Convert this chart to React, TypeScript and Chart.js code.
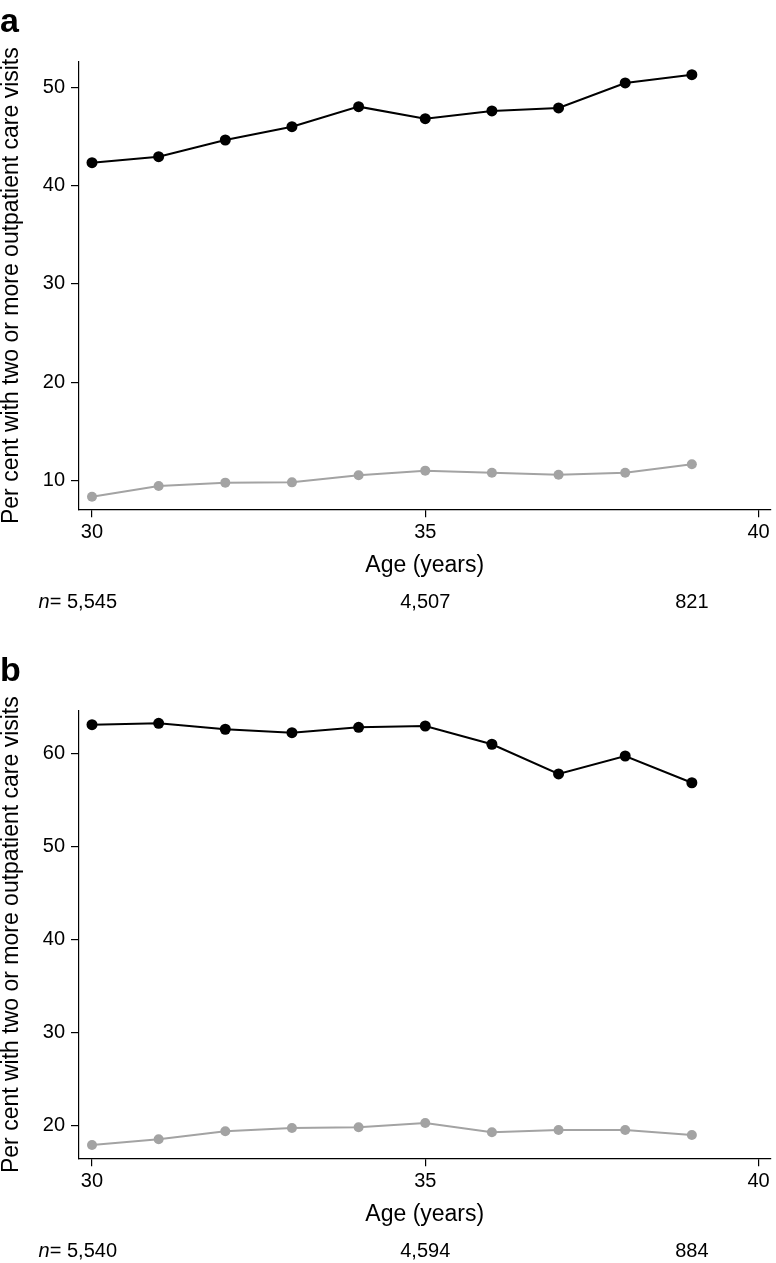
import React, { useEffect, useRef } from "react";
import { Chart, registerables } from "chart.js";

Chart.register(...registerables);

const FONT = '"Liberation Sans", Arial, Helvetica, sans-serif';

const ages = [30, 31, 32, 33, 34, 35, 36, 37, 38, 39];
const panelABlack = [42.33, 42.94, 44.64, 45.99, 48.03, 46.81, 47.59, 47.9, 50.44, 51.28];
const panelAGray = [8.37, 9.46, 9.8, 9.83, 10.55, 11.02, 10.81, 10.61, 10.81, 11.67];
const panelBBlack = [63.07, 63.22, 62.58, 62.21, 62.79, 62.93, 60.97, 57.78, 59.71, 56.84];
const panelBGray = [17.96, 18.57, 19.43, 19.79, 19.86, 20.32, 19.32, 19.57, 19.57, 19.03];

const xTicks = [30, 35, 40];
const xRange = [29.805, 40.18];
const yTicksA = [10, 20, 30, 40, 50];
const yRangeA = [7.09, 52.57];
const yTicksB = [20, 30, 40, 50, 60];
const yRangeB = [16.53, 64.54];

const nAt = [30, 35, 39];
const nLabelsA = ["5,545", "4,507", "821"];
const nLabelsB = ["5,540", "4,594", "884"];

const xTitle = "Age (years)";
const yTitle = "Per cent with two or more outpatient care visits";

const BLACK = "#000000";
const GRAY = "#a3a3a3";

const nRowPlugin = {
  id: "nRow",
  afterDraw(chart: any, _args: any, opts: any) {
    const { ctx, chartArea, scales } = chart;
    const xs = scales.x;
    const y = chartArea.bottom + opts.offset;
    ctx.save();
    ctx.fillStyle = "#000";
    ctx.textBaseline = "middle";
    (opts.labels as string[]).forEach((lab, i) => {
      ctx.font = `20px ${FONT}`;
      const cx = xs.getPixelForValue(opts.at[i]);
      ctx.textAlign = "center";
      ctx.fillText(lab, cx, y);
      if (i === 0) {
        const w = ctx.measureText(lab).width;
        const left = cx - w / 2;
        const eqW = ctx.measureText("= ").width;
        ctx.textAlign = "right";
        ctx.fillText("= ", left, y);
        ctx.font = `italic 20px ${FONT}`;
        ctx.fillText("n", left - eqW, y);
      }
    });
    ctx.restore();
  },
};

function makeConfig(
  letter: string,
  black: number[],
  gray: number[],
  yTicks: number[],
  yRange: number[],
  nLabels: string[],
  bottomPad: number
): any {
  return {
    type: "line",
    data: {
      labels: ages,
      datasets: [
        {
          data: ages.map((a, i) => ({ x: a, y: gray[i] })),
          borderColor: GRAY,
          backgroundColor: GRAY,
          pointBackgroundColor: GRAY,
          pointBorderWidth: 0,
          pointRadius: 5,
          borderWidth: 2,
          tension: 0,
        },
        {
          data: ages.map((a, i) => ({ x: a, y: black[i] })),
          borderColor: BLACK,
          backgroundColor: BLACK,
          pointBackgroundColor: BLACK,
          pointBorderWidth: 0,
          pointRadius: 5.5,
          borderWidth: 2,
          tension: 0,
        },
      ],
    },
    options: {
      responsive: false,
      animation: false,
      devicePixelRatio: 1,
      layout: { padding: { left: 0, right: 4, top: 0, bottom: bottomPad } },
      plugins: {
        legend: { display: false },
        tooltip: { enabled: false },
        title: {
          display: true,
          text: letter,
          align: "start",
          color: "#000",
          font: { family: FONT, size: 34, weight: "bold", lineHeight: 1 },
          padding: { top: 6, bottom: 22 },
        },
        nRow: { labels: nLabels, at: nAt, offset: 93.4 },
      },
      scales: {
        x: {
          type: "linear",
          min: xRange[0],
          max: xRange[1],
          afterBuildTicks: (s: any) => {
            s.ticks = xTicks.map((v) => ({ value: v }));
          },
          afterFit: (s: any) => {
            s.height = 74;
          },
          grid: {
            display: true,
            drawOnChartArea: false,
            drawTicks: true,
            tickLength: 8,
            tickColor: "#000",
            lineWidth: 1.2,
          },
          border: { display: true, color: "#000", width: 1.2 },
          ticks: {
            color: "#000",
            padding: 3,
            maxRotation: 0,
            autoSkip: false,
            font: { family: FONT, size: 20 },
            callback: (v: any) => String(v),
          },
          title: {
            display: true,
            text: xTitle,
            color: "#000",
            font: { family: FONT, size: 23 },
            padding: { top: 0, bottom: 3.5 },
          },
        },
        y: {
          type: "linear",
          min: yRange[0],
          max: yRange[1],
          afterBuildTicks: (s: any) => {
            s.ticks = yTicks.map((v) => ({ value: v }));
          },
          afterFit: (s: any) => {
            s.width = 79;
          },
          grid: {
            display: true,
            drawOnChartArea: false,
            drawTicks: true,
            tickLength: 8,
            tickColor: "#000",
            lineWidth: 1.2,
          },
          border: { display: true, color: "#000", width: 1.2 },
          ticks: {
            color: "#000",
            padding: 6,
            autoSkip: false,
            font: { family: FONT, size: 20 },
            callback: (v: any) => String(v),
          },
          title: {
            display: true,
            text: yTitle,
            color: "#000",
            font: { family: FONT, size: 23, lineHeight: 1 },
            padding: { top: 0, bottom: 0 },
          },
        },
      },
    },
    plugins: [nRowPlugin],
  };
}

function Panel(props: {
  letter: string;
  black: number[];
  gray: number[];
  yTicks: number[];
  yRange: number[];
  nLabels: string[];
  height: number;
  top: number;
}) {
  const ref = useRef<HTMLCanvasElement>(null);
  useEffect(() => {
    if (!ref.current) return;
    const bottomPad = props.height - 62 - 447.3 - 74;
    const chart = new Chart(
      ref.current,
      makeConfig(props.letter, props.black, props.gray, props.yTicks, props.yRange, props.nLabels, bottomPad)
    );
    return () => chart.destroy();
  }, []);
  return (
    <div style={{ position: "absolute", left: 0, top: props.top, width: 776, height: props.height }}>
      <canvas
        ref={ref}
        width={776}
        height={props.height}
        style={{ display: "block", width: 776, height: props.height }}
      />
    </div>
  );
}

export default function App() {
  return (
    <div
      style={{
        position: "absolute",
        left: 0,
        top: 0,
        width: 776,
        height: 1263,
        overflow: "hidden",
        background: "#fff",
      }}
    >
      <Panel letter="a" black={panelABlack} gray={panelAGray} yTicks={yTicksA} yRange={yRangeA} nLabels={nLabelsA} height={649} top={0} />
      <Panel letter="b" black={panelBBlack} gray={panelBGray} yTicks={yTicksB} yRange={yRangeB} nLabels={nLabelsB} height={614} top={649} />
    </div>
  );
}
